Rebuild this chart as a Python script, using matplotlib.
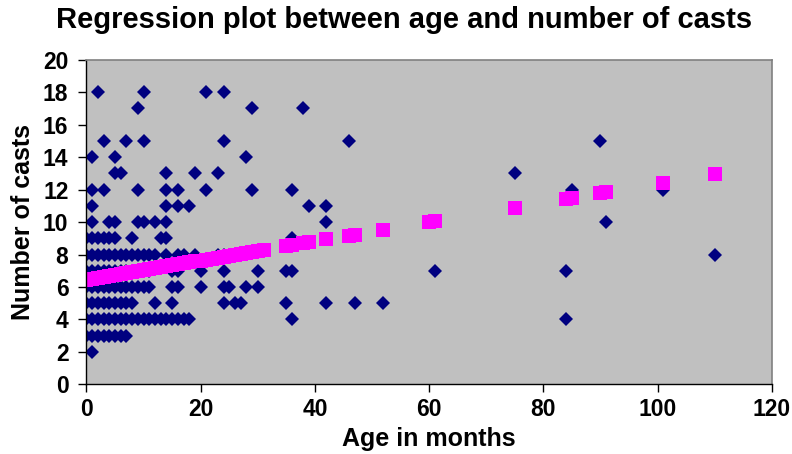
import numpy as np
import matplotlib
matplotlib.use('Agg')
import matplotlib.pyplot as plt

plt.rcParams['font.family'] = ['Liberation Sans', 'DejaVu Sans']

# observed ages (months) grouped by number of casts
ages_2 = [1]
ages_3 = [0, 1, 2, 3, 4, 5, 6, 7]
ages_4 = [0, 1, 2, 3, 4, 5, 6, 7, 8, 9, 10, 11, 12, 13, 14, 15, 16, 17, 18, 36, 84]
ages_5 = [0, 1, 2, 3, 4, 5, 6, 7, 8, 12, 15, 24, 26, 27, 35, 42, 47, 52]
ages_6 = [0, 1, 2, 3, 4, 5, 6, 7, 8, 9, 10, 11, 15, 16, 20, 24, 25, 28, 30]
ages_7 = [0, 1, 2, 3, 4, 5, 6, 7, 8, 9, 10, 11, 15, 16, 20, 24, 30, 35, 36, 61, 84]
ages_8 = [0, 1, 2, 3, 4, 5, 6, 7, 8, 9, 10, 11, 12, 14, 16, 17, 19, 23, 24, 110]
ages_9 = [0, 1, 2, 3, 4, 5, 8, 13, 14, 36]
ages_10 = [1, 4, 5, 9, 10, 12, 14, 42, 91]
ages_11 = [1, 14, 16, 18, 39, 42]
ages_12 = [1, 3, 9, 14, 16, 21, 29, 36, 85, 101]
ages_13 = [5, 6, 14, 19, 23, 75]
ages_14 = [1, 5, 28]
ages_15 = [3, 7, 10, 24, 46, 90]
ages_17 = [9, 29, 38]
ages_18 = [2, 10, 21, 24]

# predicted (regression) values
fit_age = [0, 1, 2, 3, 4, 5, 6, 7, 8, 9, 10, 11, 12, 13, 14, 15, 16, 17, 18, 19,
           20, 21, 22, 23, 24, 25, 26, 27, 28, 29, 30, 31, 35, 36, 38, 39, 42, 46,
           47, 52, 60, 61, 75, 84, 85, 90, 91, 101, 110]
fit_casts = [6.45, 6.51, 6.57, 6.63, 6.69, 6.75, 6.80, 6.86, 6.92, 6.98, 7.04, 7.10,
             7.16, 7.22, 7.28, 7.34, 7.39, 7.45, 7.51, 7.57, 7.63, 7.69, 7.75, 7.81,
             7.87, 7.93, 7.98, 8.04, 8.10, 8.16, 8.22, 8.28, 8.52, 8.57, 8.69, 8.75,
             8.93, 9.16, 9.22, 9.52, 9.99, 10.05, 10.88, 11.41, 11.47, 11.76, 11.82,
             12.41, 12.94]

rows = {2: ages_2, 3: ages_3, 4: ages_4, 5: ages_5, 6: ages_6, 7: ages_7, 8: ages_8,
        9: ages_9, 10: ages_10, 11: ages_11, 12: ages_12, 13: ages_13, 14: ages_14,
        15: ages_15, 17: ages_17, 18: ages_18}
age = np.concatenate([np.array(v, dtype=float) for v in rows.values()])
casts = np.concatenate([np.full(len(v), k, dtype=float) for k, v in rows.items()])

fig = plt.figure(figsize=(7.92, 4.54), dpi=100)
ax = fig.add_axes([0.1092, 0.1531, 0.8652, 0.7158])
ax.set_facecolor('#C0C0C0')

ax.plot(age, casts, linestyle='none', marker='D', markersize=7.6,
        color='#000080', markeredgewidth=0)
ax.plot(fit_age, fit_casts, linestyle='none', marker='s', markersize=10,
        color='#FF00FF', markeredgewidth=0)

ax.set_xlim(0, 120)
ax.set_ylim(0, 20)
ax.set_xticks(np.arange(0, 121, 20))
ax.set_yticks(np.arange(0, 21, 2))

for side in ['top', 'right']:
    ax.spines[side].set_color('#808080')
    ax.spines[side].set_linewidth(1.2)
for side in ['left', 'bottom']:
    ax.spines[side].set_color('black')
    ax.spines[side].set_linewidth(1.0)

ax.tick_params(axis='both', direction='out', length=6, width=1, labelsize=16.5)
ax.tick_params(axis='x', pad=4)
ax.tick_params(axis='y', pad=7)
for lbl in ax.get_xticklabels() + ax.get_yticklabels():
    lbl.set_fontweight('bold')

ax.set_xlabel('Age in months', fontsize=18, fontweight='bold', labelpad=4)
ax.set_ylabel('Number of casts', fontsize=18, fontweight='bold', labelpad=6)
fig.text(0.51, 0.955, 'Regression plot between age and number of casts',
         ha='center', va='center', fontsize=21, fontweight='bold')

plt.savefig('out.png', dpi=100)
